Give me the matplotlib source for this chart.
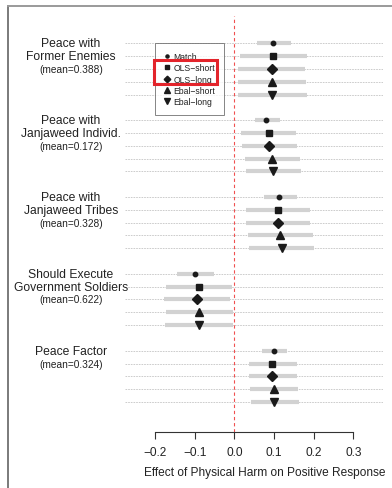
import matplotlib
matplotlib.use("Agg")
import matplotlib.pyplot as plt
from matplotlib.lines import Line2D
from matplotlib.patches import Rectangle
from matplotlib import transforms

plt.rcParams["font.family"] = ["Liberation Sans", "DejaVu Sans"]

# Outcomes (title lines, mean) and estimators
outcome_titles = [
    ["Peace with", "Former Enemies"],
    ["Peace with", "Janjaweed Individ."],
    ["Peace with", "Janjaweed Tribes"],
    ["Should Execute", "Government Soldiers"],
    ["Peace Factor"],
]
outcome_means = ["(mean=0.388)", "(mean=0.172)", "(mean=0.328)",
                 "(mean=0.622)", "(mean=0.324)"]
methods = ["Match", "OLS\u2212short", "OLS\u2212long", "Ebal\u2212short", "Ebal\u2212long"]

# Point estimates and interval bounds, one list per estimator (outcome order)
match_est = [0.098, 0.081, 0.113, -0.100, 0.100]
match_lo = [0.056, 0.051, 0.075, -0.144, 0.070]
match_hi = [0.144, 0.116, 0.158, -0.051, 0.132]

ols_short_est = [0.098, 0.087, 0.110, -0.088, 0.096]
ols_short_lo = [0.015, 0.018, 0.029, -0.172, 0.037]
ols_short_hi = [0.182, 0.155, 0.192, -0.007, 0.157]

ols_long_est = [0.094, 0.088, 0.110, -0.094, 0.096]
ols_long_lo = [0.008, 0.020, 0.030, -0.178, 0.037]
ols_long_hi = [0.178, 0.157, 0.192, -0.010, 0.157]

ebal_short_est = [0.095, 0.095, 0.115, -0.088, 0.100]
ebal_short_lo = [0.008, 0.026, 0.034, -0.172, 0.040]
ebal_short_hi = [0.180, 0.165, 0.199, -0.003, 0.161]

ebal_long_est = [0.095, 0.098, 0.119, -0.090, 0.100]
ebal_long_lo = [0.009, 0.029, 0.037, -0.175, 0.041]
ebal_long_hi = [0.182, 0.167, 0.200, -0.003, 0.162]

x_ticks = [-0.2, -0.1, 0.0, 0.1, 0.2, 0.3]
x_ticklabels = ["\u22120.2", "\u22120.1", "0.0", "0.1", "0.2", "0.3"]
x_label = "Effect of Physical Harm on Positive Response"

series = [
    (match_est, match_lo, match_hi, "o", 3.2),
    (ols_short_est, ols_short_lo, ols_short_hi, "s", 5.0),
    (ols_long_est, ols_long_lo, ols_long_hi, "D", 4.8),
    (ebal_short_est, ebal_short_lo, ebal_short_hi, "^", 5.8),
    (ebal_long_est, ebal_long_lo, ebal_long_hi, "v", 5.8),
]

W, H = 392, 489
fig = plt.figure(figsize=(W / 100, H / 100), dpi=100)


def fx(x):
    return x / W


def fy(y):
    return 1 - y / H


# plotting area in pixel terms
ax_l, ax_r, ax_t, ax_b = 125, 383, 17, 432.7
ax = fig.add_axes([fx(ax_l), fy(ax_b), (ax_r - ax_l) / W, (ax_b - ax_t) / H])
ax.set_xlim(-0.2757, 0.3749)
ax.set_ylim(30.32, -2.13)

n_groups = len(outcome_titles)
n_methods = len(methods)
row_gap = n_methods + 1

# dotted guide lines for each row
for g in range(n_groups):
    for m in range(n_methods):
        ax.axhline(g * row_gap + m, color="#c4c4c4", lw=0.6,
                   ls=(0, (2, 1.2)), zorder=1)

ax.axvline(0, color="#f05050", lw=0.8, ls=(0, (3, 2.5)), zorder=2)

handles = []
for m, (est, lo, hi, mk, ms) in enumerate(series):
    for g in range(n_groups):
        y = g * row_gap + m
        ax.plot([lo[g], hi[g]], [y, y], color="#d2d2d2", lw=3.0,
                solid_capstyle="butt", zorder=3)
    ys = [g * row_gap + m for g in range(n_groups)]
    ax.plot(est, ys, ls="none", marker=mk, ms=ms, color="#1a1a1a",
            mec="#1a1a1a", zorder=4)
    handles.append(Line2D([], [], ls="none", marker=mk, color="#1a1a1a",
                          ms=min(ms * 0.7, 4.2)))

for s in ["top", "right", "left"]:
    ax.spines[s].set_visible(False)
ax.spines["bottom"].set_bounds(-0.2, 0.3)
ax.spines["bottom"].set_color("#333333")
ax.spines["bottom"].set_linewidth(0.8)
ax.set_yticks([])
ax.set_xticks(x_ticks)
ax.set_xticklabels(x_ticklabels, fontsize=8.6, color="#222222")
ax.tick_params(axis="x", length=5.2, width=0.8, color="#333333", pad=5)

# outcome labels to the left of each block
trans = transforms.blended_transform_factory(fig.transFigure, ax.transData)
for g in range(n_groups):
    lines = outcome_titles[g]
    for i, t in enumerate(lines):
        ax.text(fx(71), g * row_gap + i, t, transform=trans, ha="center",
                va="center", fontsize=8.7, color="#222222", clip_on=False)
    ax.text(fx(71), g * row_gap + len(lines), outcome_means[g],
            transform=trans, ha="center", va="center", fontsize=7.3,
            color="#222222", clip_on=False)

fig.text(fx(265), fy(473), x_label, ha="center", va="center",
         fontsize=8.6, color="#222222")

leg = fig.legend(handles, methods, loc="upper left",
                 bbox_to_anchor=(fx(155), fy(44)), fontsize=6.2,
                 frameon=True, fancybox=False, edgecolor="#666666",
                 handlelength=0.6, handletextpad=0.5, borderpad=1.05,
                 labelspacing=0.26, borderaxespad=0)
leg.get_frame().set_linewidth(0.7)
for t in leg.get_texts():
    t.set_color("#222222")

# highlight box round the OLS entries
fig.add_artist(Rectangle((fx(154.3), fy(85)), (217.3 - 154.3) / W, (85 - 61) / H,
                         transform=fig.transFigure, fill=False,
                         edgecolor="#e3242b", lw=2.2, zorder=10))

# outer frame edges
fig.add_artist(Line2D([fx(7.5), fx(7.5)], [fy(7), 0], transform=fig.transFigure,
                      color="#7a7a7a", lw=1.4))
fig.add_artist(Line2D([fx(7.5), 1], [fy(7), fy(7)], transform=fig.transFigure,
                      color="#9a9a9a", lw=1.4))

fig.savefig("out.png", dpi=100)
